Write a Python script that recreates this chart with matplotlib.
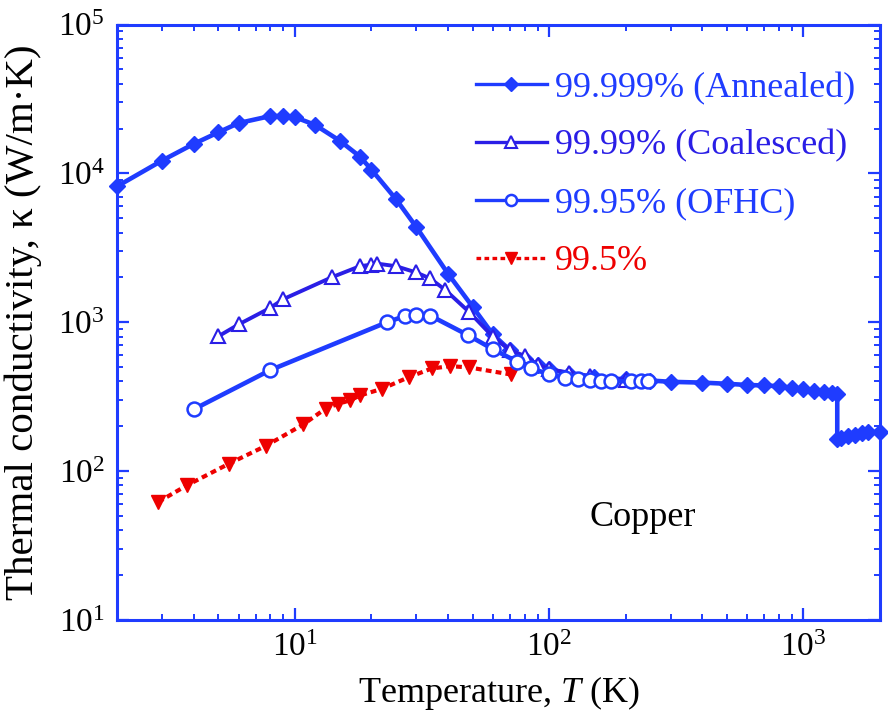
import matplotlib
matplotlib.use("Agg")
import matplotlib.pyplot as plt

plt.rcParams['font.family'] = ['Liberation Serif', 'DejaVu Serif']
plt.rcParams['mathtext.fontset'] = 'custom'
plt.rcParams['mathtext.rm'] = 'Liberation Serif'
plt.rcParams['mathtext.it'] = 'Liberation Serif:italic'

# 99.999% (Annealed)
t_annealed = [2, 3, 4, 5, 6, 8, 9, 10, 12, 15, 18, 20, 25, 30, 40, 50, 60, 70,
              80, 90, 100, 120, 150, 200, 250, 300, 400, 500, 600, 700, 800,
              900, 1000, 1100, 1200, 1300, 1358, 1358, 1400, 1500, 1600, 1700,
              1800, 2000]
k_annealed = [8200, 12200, 15800, 18900, 21800, 24300, 24300, 23900, 21200,
              16600, 13000, 10600, 6700, 4370, 2120, 1270, 830, 650,
              570, 514, 483, 450, 428, 413, 406, 398, 393, 386, 379, 376, 372,
              363, 354, 345, 339, 335, 332, 165, 168, 171, 175, 179, 182, 184]

# 99.99% (Coalesced)
t_coalesced = [5, 6, 8, 9, 14, 18, 20, 21, 25, 30, 34, 39, 48.5, 60, 70, 80,
               90, 100, 120, 145, 200]
k_coalesced = [805, 966, 1250, 1430, 2010, 2380, 2440, 2480, 2380, 2160, 1970,
               1650, 1170, 800, 650, 595, 520, 484, 458, 435, 410]

# 99.95% (OFHC)
t_ofhc = [4, 8, 23, 27, 30, 34, 48, 60, 75, 85, 100, 115, 130, 145, 160, 175,
          210, 230, 245]
k_ofhc = [260, 477, 1000, 1100, 1120, 1110, 818, 660, 542, 490, 447, 423, 414,
          408, 404, 404, 400, 400, 400]

# 99.5%
t_995 = [2.9, 3.75, 5.5, 7.7, 10.8, 13.2, 14.8, 16.5, 18, 22, 28, 34.5, 40.8,
         48.5, 70.5]
k_995 = [62, 80, 112, 148, 206, 263, 283, 299, 322, 357, 427, 489, 507, 497,
         446]

blue = '#1f3cff'
blue2 = '#2a1ee6'
red = '#ee0000'

fig = plt.figure(figsize=(8.88, 7.25), dpi=100)
ax = fig.add_axes([0.132, 0.145, 0.859, 0.821])

ax.plot(t_annealed, k_annealed, '-', color=blue, lw=3.3, marker='D', ms=8.5,
        mfc=blue, mec=blue, clip_on=False, label='99.999% (Annealed)', zorder=3)
ax.plot(t_coalesced, k_coalesced, '-', color=blue2, lw=2.8, marker='^', ms=10,
        mfc='white', mec=blue2, mew=1.5, label='99.99% (Coalesced)', zorder=4)
ax.plot(t_ofhc, k_ofhc, '-', color=blue, lw=3.3, marker='o', ms=10,
        mfc='white', mec=blue, mew=1.8, label='99.95% (OFHC)', zorder=5)
ax.plot(t_995, k_995, ':', color=red, lw=3.0, marker='v', ms=10,
        mfc=red, mec=red, dashes=(1.4, 1.0), label='99.5%', zorder=4)

ax.set_xscale('log')
ax.set_yscale('log')
ax.set_xlim(2, 2000)
ax.set_ylim(10, 1e5)

for s in ax.spines.values():
    s.set_color(blue)
    s.set_linewidth(2.2)
ax.tick_params(which='both', direction='in', top=True, right=True,
               color=blue, labelsize=24, labelcolor='black')
ax.tick_params(which='major', length=8.5, width=1.6, pad=9)
ax.tick_params(which='minor', length=4.5, width=1.4)

ax.set_xlabel('Temperature, $T$ (K)', fontsize=26, labelpad=8)
ax.set_ylabel('Thermal conductivity, κ (W/m·K)', fontsize=29.5)
ax.yaxis.set_label_coords(-0.098, 0.5)

ax.text(234, 48.6, 'Copper', fontsize=26, ha='center', va='center')

leg = ax.legend(loc='upper right', bbox_to_anchor=(0.967, 0.921),
                frameon=False, fontsize=26, markerscale=0.8,
                handlelength=1.95, handletextpad=0.22, labelspacing=0.68,
                borderaxespad=0, borderpad=0, labelcolor='linecolor')
for h in leg.legend_handles:
    h.set_linewidth(2.4)

fig.savefig('out.png', dpi=100)
